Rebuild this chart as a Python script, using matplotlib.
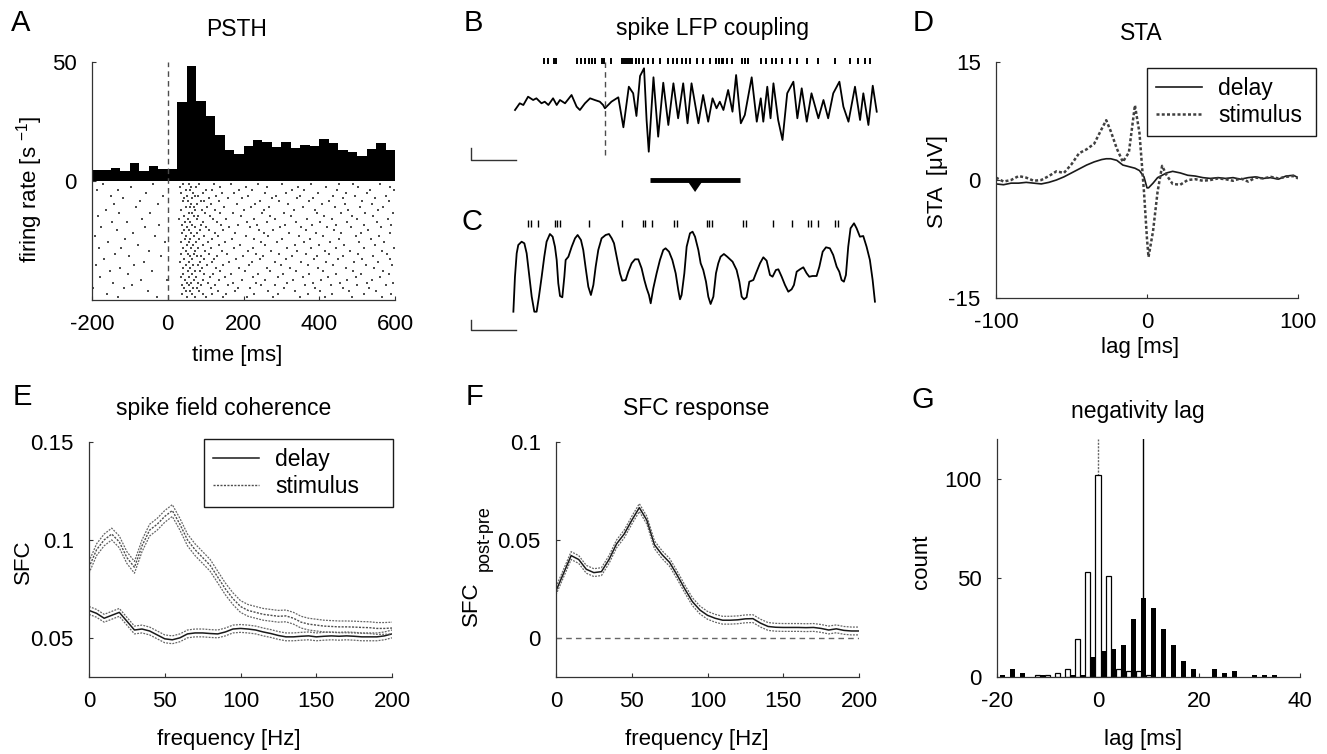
import numpy as np
import matplotlib.pyplot as plt

plt.rcParams['font.family'] = ['Liberation Sans', 'DejaVu Sans']
plt.rcParams['mathtext.fontset'] = 'custom'
plt.rcParams['mathtext.rm'] = 'Liberation Sans'
plt.rcParams['mathtext.it'] = 'Liberation Sans:italic'
plt.rcParams['axes.unicode_minus'] = False

W, H = 1327, 754

### DATA
# A: PSTH (25 ms bins) and raster
psth_left = np.arange(-200, 600, 25)
psth_rate = [4.6, 4.6, 5.3, 4.2, 7.7, 4.2, 6.3, 5.2, 4.9, 33.2, 48.2, 33.5,
             27.2, 19.3, 13.0, 11.3, 14.7, 17.2, 16.5, 14.4, 16.5, 13.8, 15.2,
             14.7, 17.6, 16.1, 13.0, 12.3, 10.5, 13.5, 16.1, 13.1]
raster = [
    [-172, -38, 41, 57, 83, 121, 166, 238, 301, 377, 452, 489, 561],
    [-96, 33, 62, 74, 139, 207, 263, 344, 418, 503, 587],
    [-188, -131, 48, 59, 101, 117, 188, 222, 329, 361, 447, 533, 598],
    [-57, 36, 66, 92, 143, 176, 258, 312, 398, 471, 526],
    [-151, -12, 52, 71, 79, 128, 213, 287, 349, 436, 494, 577],
    [-117, 44, 63, 108, 159, 197, 276, 341, 384, 462, 548],
    [-199, -73, 39, 54, 88, 96, 134, 244, 293, 372, 427, 512, 583],
    [-142, -26, 61, 77, 115, 182, 231, 318, 406, 468, 539],
    [-83, 47, 58, 69, 104, 148, 219, 268, 357, 441, 508, 569],
    [-164, 35, 72, 91, 126, 201, 254, 333, 389, 477, 556],
    [-128, -46, 55, 64, 99, 137, 171, 248, 306, 395, 458, 521, 594],
    [-185, 42, 68, 81, 112, 193, 271, 326, 413, 486, 543],
    [-67, 31, 53, 76, 119, 154, 227, 283, 368, 433, 499, 581],
    [-146, -108, 46, 60, 94, 131, 209, 262, 339, 401, 474, 552],
    [-22, 38, 65, 87, 141, 185, 236, 309, 382, 445, 517, 590],
    [-176, -59, 50, 73, 102, 163, 217, 297, 353, 421, 483, 563],
    [-135, 43, 57, 85, 110, 146, 241, 279, 364, 439, 529],
    [-91, 37, 62, 78, 124, 178, 253, 321, 392, 457, 511, 586],
    [-193, -34, 49, 70, 97, 133, 206, 266, 347, 409, 496, 559],
    [-112, 45, 59, 82, 118, 169, 229, 302, 376, 451, 536],
    [-158, -7, 34, 56, 75, 106, 152, 246, 288, 359, 428, 505, 572],
    [-78, 51, 67, 93, 136, 191, 258, 335, 400, 466, 547],
    [-181, -123, 40, 61, 80, 114, 174, 224, 314, 379, 444, 519, 597],
    [-49, 47, 72, 98, 144, 212, 273, 342, 416, 481, 566],
    [-139, 36, 54, 68, 109, 157, 233, 295, 366, 425, 502, 578],
    [-101, -18, 58, 76, 89, 129, 199, 251, 328, 393, 462, 541],
    [-167, 43, 63, 95, 122, 181, 243, 311, 386, 449, 514, 588],
    [-63, 32, 55, 84, 116, 161, 222, 284, 351, 419, 491, 554],
    [-190, -88, 48, 66, 79, 103, 147, 214, 299, 371, 437, 524, 592],
    [-126, 39, 60, 90, 127, 189, 261, 324, 397, 470, 545],
    [-153, -41, 53, 71, 86, 139, 204, 270, 338, 411, 488, 568],
    [-105, 41, 64, 97, 120, 167, 239, 305, 374, 443, 509, 584],
    [-179, 35, 57, 74, 111, 150, 226, 292, 356, 424, 497, 560],
    [-70, -3, 46, 69, 92, 135, 196, 257, 331, 405, 473, 538],
    [-144, 50, 62, 81, 107, 173, 234, 316, 383, 455, 527, 595],
    [-95, 38, 56, 88, 125, 158, 247, 282, 362, 431, 500, 575],
    [-197, -115, 44, 67, 78, 113, 186, 218, 307, 388, 464, 532],
    [-52, 49, 59, 83, 132, 177, 264, 337, 403, 478, 550],
    [-161, 37, 65, 94, 118, 154, 228, 290, 369, 434, 518, 589],
    [-132, -29, 52, 73, 100, 145, 210, 277, 348, 415, 487, 565],
]

# B: LFP single trial (ms, uV) and spikes
lfp_b_t = [-248, -235, -225, -212, -198, -189, -175, -166, -156, -143, -133,
           -124, -110, -92, -78, -69, -55, -41, -28, -14, -5, 0, 18, 37, 51,
           66, 78, 87, 97, 108, 115, 121, 134, 147, 161, 175, 189, 202, 216,
           228, 239, 258, 271, 285, 297, 308, 317, 327, 340, 352, 362, 375,
           386, 405, 419, 430, 437, 448, 457, 465, 478, 490, 503, 520, 531,
           543, 557, 570, 589, 603, 616, 630, 647, 658, 672, 690, 704, 713,
           727, 739, 750]
lfp_b_v = [-7, -0.3, -2, 6.3, 3, 4.7, -0.3, 1.3, -2, 4.7, -2, 3, -0.3, 8,
           -3.7, -7, -0.3, 4.7, 3, 1.3, -2, -5.3, 1.3, 5.7, -24.3, 16.3, 9.7,
           -13, 27, 34.7, -17, -48.7, 25.7, -33.7, 20.3, -22, 19.7, -15.3,
           19.7, -20.3, 19.7, -20.3, 8, -18.7, 4.7, -5.3, 1.3, -7, 13, -8.7,
           28, -20.3, -12, 25.7, -18.7, 4.7, -18.7, 16.3, -15.3, 19.7, -17,
           -37, 9.7, 21.3, -15.3, 14.7, -18.7, 9.7, -15.3, 3, -15.3, 9.7,
           21.3, -3.7, -18.7, 16.3, -17, 9.7, -22, 17.3, -8.7]
spikes_b = [-168, -158, -140, -136, -78, -66, -55, -44, -35, -26, -9, -2, 17,
            48, 53, 57, 63, 69, 75, 85, 94, 106, 118, 133, 152, 173, 189, 198,
            212, 225, 235, 253, 271, 290, 306, 315, 322, 327, 336, 350, 377,
            386, 396, 432, 444, 460, 472, 488, 511, 529, 557, 589, 635, 676,
            699, 718, 731]

# C: zoomed LFP segment (ms, uV) and spikes
lfp_c_t = [123.6, 124.7, 125.9, 127.0, 129.3, 131.2, 132.8, 134.4, 136.3,
           138.1, 139.7, 141.3, 143.2, 145.0, 146.6, 148.9, 150.8, 152.4,
           153.6, 154.7, 155.9, 157.5, 158.9, 159.8, 161.7, 164.0, 166.3,
           168.1, 170.4, 172.0, 173.7, 175.5, 177.3, 179.0, 180.6, 182.4,
           184.7, 187.5, 189.8, 191.7, 193.3, 195.1, 197.4, 199.0, 201.4,
           203.2, 205.5, 207.8, 210.1, 212.4, 214.3, 215.9, 217.5, 218.7,
           220.5, 222.8, 225.1, 227.4, 229.0, 231.4, 233.7, 236.0, 237.8,
           239.0, 240.1, 242.0, 243.6,
           245.9, 247.7, 249.4, 251.7, 253.3, 255.1, 257.0, 258.6, 260.2,
           262.1, 263.9, 265.5, 267.1, 269.4, 271.7, 273.6, 275.4, 278.2,
           280.1, 281.7, 283.3, 285.1, 287.0, 289.8, 291.6, 294.4, 296.7,
           299.0, 301.3, 303.1, 305.4, 307.1, 309.4, 311.7, 314.0, 316.3,
           317.9, 319.8, 322.1, 324.4, 326.7, 328.5, 330.8, 333.6, 335.5,
           337.8, 340.1, 342.8, 345.1, 347.5, 349.3, 350.9, 352.5, 353.9,
           355.5, 357.1, 359.5, 361.3, 363.6, 365.9, 368.2, 370.5, 372.4,
           374.0]
lfp_c_v = [-41.7, -6.7, 16.7, 25, 28.3, 26.7, 16.7, -3.3, -26.7, -41.7,
           -41.7, -26.7, -6.7, 13.3, 28.3, 36, 33.3, 23.3, 10, -13.3, -26,
           -27.3, -6.7, 10, 13.3, 23.3, 31.7, 35, 30, 20, 1.7, -16.7, -25,
           -15, 3.3, 20, 31.7, 35, 36, 31.7, 26.7, 13.3, -3.3, -10.7, -10,
           -1.7, 6.7, 10.7, 10.7, 1.7, -10, -18.3, -25, -33.3, -18.3, -3.3,
           10, 20, 21.7, 18.3, 10, -3.3, -20, -29.3, -25, -3.3, 23.3,
           36.7, 38.3, 33.3, 20, 6.7, 0, -11.7, -26.7, -34, -26.7, -3.3, 6.7,
           13.3, 16, 13.3, 10.7, 8.3, 0, -11.7, -26.7, -29.3, -27.3, -11.7,
           -10, -3.3, 6.7, 12.7, 9.3, -5, -6.7, 0, 0.7, -6.7, -15, -21.7,
           -19.3, -15, -1.7, 0.7, 2.7, -3.3, -6.7, -6, -6, 3.3, 18.3, 22.7,
           21.7, 15, 3.3, -1.7, -10, -11.7, -5, 23.3, 41.7, 46.7, 41.7, 33.3,
           34, 23.3, 10, -10, -31.7]
spikes_c = [133.7, 135.8, 140.6, 152.4, 153.8, 155.9, 175.9, 198.8, 213.3,
            214.7, 219.5, 234.8, 236.9, 257.7, 259.0, 261.1, 282.6, 284.7,
            303.4, 316.5, 327.6, 329.7, 334.5, 346.3, 348.4]

# D: spike triggered average
sta_lag = [-100, -95, -90, -85, -80, -75, -70, -65, -60, -55, -50, -45, -40,
           -35, -30, -27, -24, -20, -16, -12, -8, -5, -2, 0, 1, 4, 7, 10, 13,
           17, 22, 27, 32, 37, 42, 47, 52, 57, 62, 67, 72, 77, 82, 87, 92, 97,
           100]
sta_delay = [-0.5, -0.6, -0.4, -0.4, -0.3, -0.4, -0.5, -0.3, 0.0, 0.4, 0.9,
             1.4, 1.9, 2.3, 2.6, 2.7, 2.7, 2.5, 1.9, 1.7, 1.5, 1.2, 0.4, -1.0,
             -1.0, -0.4, 0.3, 0.6, 0.9, 1.1, 0.9, 0.6, 0.5, 0.3, 0.2, 0.3, 0.2,
             0.3, 0.1, 0.3, 0.4, 0.2, 0.3, 0.1, 0.5, 0.6, 0.3]
sta_stim = [0.3, -0.2, 0.0, 0.5, 0.3, -0.1, 0.0, 0.5, 1.1, 0.9, 2.0, 3.4, 3.9,
            4.6, 6.5, 7.6, 6.2, 4.0, 2.3, 3.5, 9.5, 6.0, -1.5, -7.5, -9.8, -6.5,
            -1.5, 1.8, 0.6, -0.5, -0.6, 0.0, 0.1, -0.1, 0.0, 0.2, 0.1, -0.1,
            0.2, -0.2, 0.3, 0.2, 0.4, 0.2, 0.4, 0.5, 0.2]

# E, F: spike field coherence
sfc_freq = np.arange(0, 201, 5)
sfc_stim = [0.086, 0.095, 0.100, 0.103, 0.099, 0.091, 0.086, 0.097, 0.105,
            0.108, 0.112, 0.115, 0.108, 0.100, 0.095, 0.091, 0.087, 0.081,
            0.075, 0.070, 0.066, 0.064, 0.063, 0.062, 0.0615, 0.061, 0.0612,
            0.060, 0.058, 0.057, 0.0565, 0.056, 0.0558, 0.0556, 0.0556,
            0.0555, 0.0553, 0.0552, 0.0548, 0.0548, 0.055]
sfc_delay = [0.0640, 0.0625, 0.0600, 0.0615, 0.0630, 0.0585, 0.0540, 0.0545,
             0.0535, 0.0515, 0.0495, 0.0490, 0.0500, 0.0520, 0.0525, 0.0525,
             0.0522, 0.0520, 0.0530, 0.0545, 0.0548, 0.0545, 0.0540, 0.0530,
             0.0522, 0.0512, 0.0505, 0.0505, 0.0508, 0.0510, 0.0505, 0.0508,
             0.0510, 0.0508, 0.0510, 0.0508, 0.0505, 0.0505, 0.0505, 0.0510,
             0.0520]
sfc_stim_sem = 0.003
sfc_delay_sem = 0.002
sfc_resp = [0.0240, 0.0330, 0.0420, 0.0400, 0.0350, 0.0333, 0.0338, 0.0400,
            0.0480, 0.0530, 0.0600, 0.0665, 0.0600, 0.0475, 0.0425, 0.0385,
            0.0320, 0.0250, 0.0185, 0.0142, 0.0115, 0.0100, 0.0090, 0.0090,
            0.0092, 0.0097, 0.0098, 0.0075, 0.0058, 0.0054, 0.0053, 0.0053,
            0.0053, 0.0052, 0.0053, 0.0048, 0.0040, 0.0046, 0.0038, 0.0035,
            0.0035]
sfc_resp_sem = 0.002

# G: negativity lag histograms
lag_stim = [-12, -10, -8, -6, -4, -2, 0, 2, 4, 6, 8, 10]
count_stim = [1, 1, 2, 4, 19, 53, 102, 51, 4, 3, 3, 1]
lag_delay = [-19, -17, -15, -11, -5, -3, -1, 1, 3, 5, 7, 9, 11, 13, 15, 17, 19,
             23, 25, 27, 31, 33, 35]
count_delay = [1, 4, 2, 1, 1, 1, 10, 13, 14, 16, 29, 40, 35, 24, 16, 8, 4, 4,
               2, 3, 1, 1, 1]
median_stim = 0
median_delay = 9

### FIGURE
fig = plt.figure(figsize=(W / 100, H / 100), dpi=100)

FS = 16
TS = 16.5
DOT = (0, (1.5, 1))


def px_axes(left, top, right, bottom):
    return fig.add_axes([left / W, 1 - bottom / H, (right - left) / W,
                         (bottom - top) / H])


def style(ax):
    for s in ["top", "right"]:
        ax.spines[s].set_visible(False)
    for s in ["left", "bottom"]:
        ax.spines[s].set_linewidth(0.9)
        ax.spines[s].set_color("0.2")
    ax.tick_params(direction="in", length=3, width=0.8, color="0.2",
                   labelsize=FS)
    ax.tick_params(axis="x", pad=10)
    ax.tick_params(axis="y", pad=11)


def ftext(x, y, s, size=FS, rot=0, **kw):
    fig.text(x / W, 1 - y / H, s, fontsize=size, rotation=rot,
             ha="center", va="center", **kw)


def legend(ax, left, top, right, bottom):
    # legend box given in pixels, entries left aligned inside it
    box = (left / W, 1 - bottom / H, (right - left) / W, (bottom - top) / H)
    leg = ax.legend(loc="upper left", bbox_to_anchor=box, mode="expand",
                    bbox_transform=fig.transFigure, borderaxespad=0,
                    fontsize=FS + 0.5, fancybox=False, framealpha=1,
                    edgecolor="0.1", handlelength=2.0, handletextpad=0.7,
                    borderpad=0.4, labelspacing=0.15)
    leg.get_frame().set_linewidth(1)


# panel A
ax = px_axes(92, 62, 395, 300)
style(ax)
ax.bar(psth_left, psth_rate, width=25, align="edge", color="k", lw=0)
row_h = 50 / (len(raster) + 1)
for i, tr in enumerate(raster):
    ax.plot(tr, [-(i + 1) * row_h] * len(tr), ls="none", marker="s",
            ms=1.5, mew=0, color="0.3")
ax.plot([0, 0], [-50, 50], ls=(0, (4, 3)), color="0.3", lw=1)
ax.set_xlim(-200, 600)
ax.set_ylim(-50, 50)
ax.set_xticks([-200, 0, 200, 400, 600])
ax.set_yticks([0, 50])

# panel B
axb = px_axes(465, 40, 880, 195)
axb.axis("off")
axb.set_xlim(-386, 759)
axb.set_ylim(-92, 63)
axb.plot(lfp_b_t, lfp_b_v, color="k", lw=1.3)
axb.vlines(spikes_b, 39, 45, color="k", lw=1.4)
axb.plot([0, 0], [-52, 42], ls=(0, (4, 3)), color="0.3", lw=1)
axb.plot([-370, -370, -246], [-45, -57, -57], color="0.2", lw=1)
c_mid = (lfp_c_t[0] + lfp_c_t[-1]) / 2
axb.plot([lfp_c_t[0], lfp_c_t[-1]], [-77, -77], color="k", lw=3.5,
         solid_capstyle="butt")
axb.fill([c_mid - 19, c_mid + 19, c_mid], [-79, -79, -89], color="k", lw=0)

# panel C
axc = px_axes(465, 205, 880, 340)
axc.axis("off")
axc.set_xlim(90.1, 377.5)
axc.set_ylim(-70, 65)
axc.plot(lfp_c_t, lfp_c_v, color="k", lw=1.3)
axc.vlines(spikes_c, 43, 50, color="k", lw=1.0)
axc.plot([94.2, 94.2, 125.4], [-50, -60, -60], color="0.2", lw=1)

# panel D
axd = px_axes(996, 62, 1298, 298)
style(axd)
axd.plot(sta_lag, sta_delay, color="0.1", lw=1.2, label="delay")
axd.plot(sta_lag, sta_stim, color="0.25", lw=1.8, ls=(0, (1.2, 0.9)),
         label="stimulus")
axd.set_xlim(-100, 100)
axd.set_ylim(-15, 15)
axd.set_xticks([-100, 0, 100])
axd.set_yticks([-15, 0, 15])
legend(axd, 1147, 68, 1316, 126)

# panel E
axe = px_axes(89, 442, 392, 677)
style(axe)
stim = np.array(sfc_stim)
dly = np.array(sfc_delay)
axe.plot(sfc_freq, dly, color="0.1", lw=1.1, label="delay")
axe.plot(sfc_freq, dly + sfc_delay_sem, color="0.4", lw=0.9, ls=DOT)
axe.plot(sfc_freq, dly - sfc_delay_sem, color="0.4", lw=0.9, ls=DOT)
axe.plot(sfc_freq, stim, color="0.3", lw=1.0, ls=DOT, label="stimulus")
axe.plot(sfc_freq, stim + sfc_stim_sem, color="0.4", lw=0.9, ls=DOT)
axe.plot(sfc_freq, stim - sfc_stim_sem, color="0.4", lw=0.9, ls=DOT)
axe.set_xlim(0, 200)
axe.set_ylim(0.03, 0.15)
axe.set_xticks([0, 50, 100, 150, 200])
axe.set_yticks([0.05, 0.1, 0.15])
axe.set_yticklabels(["0.05", "0.1", "0.15"])
legend(axe, 204, 439, 393, 505)

# panel F
axf = px_axes(556, 442, 859, 677)
style(axf)
resp = np.array(sfc_resp)
axf.plot([0, 200], [0, 0], ls=(0, (4, 3)), color="0.4", lw=1)
axf.plot(sfc_freq, resp, color="0.1", lw=1.1)
axf.plot(sfc_freq, resp + sfc_resp_sem, color="0.4", lw=0.9, ls=DOT)
axf.plot(sfc_freq, resp - sfc_resp_sem, color="0.4", lw=0.9, ls=DOT)
axf.set_xlim(0, 200)
axf.set_ylim(-0.02, 0.1)
axf.set_xticks([0, 50, 100, 150, 200])
axf.set_yticks([0, 0.05, 0.1])
axf.set_yticklabels(["0", "0.05", "0.1"])

# panel G
axg = px_axes(997, 439, 1300, 677)
style(axg)
axg.plot([median_stim, median_stim], [0, 120], ls=DOT, color="0.4",
         lw=1, zorder=1)
axg.plot([median_delay, median_delay], [0, 120], color="k", lw=1, zorder=1)
axg.bar(lag_stim, count_stim, width=1.0, color="white", edgecolor="k",
        lw=0.9, zorder=2)
axg.bar(lag_delay, count_delay, width=1.0, color="k", lw=0, zorder=2)
axg.set_xlim(-20, 40)
axg.set_ylim(0, 120)
axg.set_xticks([-20, 0, 20, 40])
axg.set_yticks([0, 50, 100])

# titles, labels and panel letters
ftext(237, 30, "PSTH", size=TS)
ftext(712, 29, "spike LFP coupling", size=TS)
ftext(1141, 33, "STA", size=TS)
ftext(224, 409, "spike field coherence", size=TS)
ftext(696, 409, "SFC response", size=TS)
ftext(1138, 411, "negativity lag", size=TS)

ftext(30, 189, r"firing rate [s $^{-1}$]", rot=90)
ftext(237, 356, "time [ms]")
ftext(937, 181, "STA  [\u03bcV]", rot=90)
ftext(1140, 348, "lag [ms]")
ftext(23, 562, "SFC", rot=90)
ftext(229, 739, "frequency [Hz]")
ftext(471, 604, "SFC", rot=90)
ftext(484, 538, "post-pre", size=FS - 3, rot=90)
ftext(697, 739, "frequency [Hz]")
ftext(922, 562, "count", rot=90)
ftext(1143, 740, "lag [ms]")

for lab, x, y in [("A", 21, 23), ("B", 473, 23), ("C", 472, 222),
                  ("D", 923, 23), ("E", 22, 397), ("F", 474, 397),
                  ("G", 923, 400)]:
    ftext(x, y, lab, size=21)

plt.savefig("out.png", dpi=100)
